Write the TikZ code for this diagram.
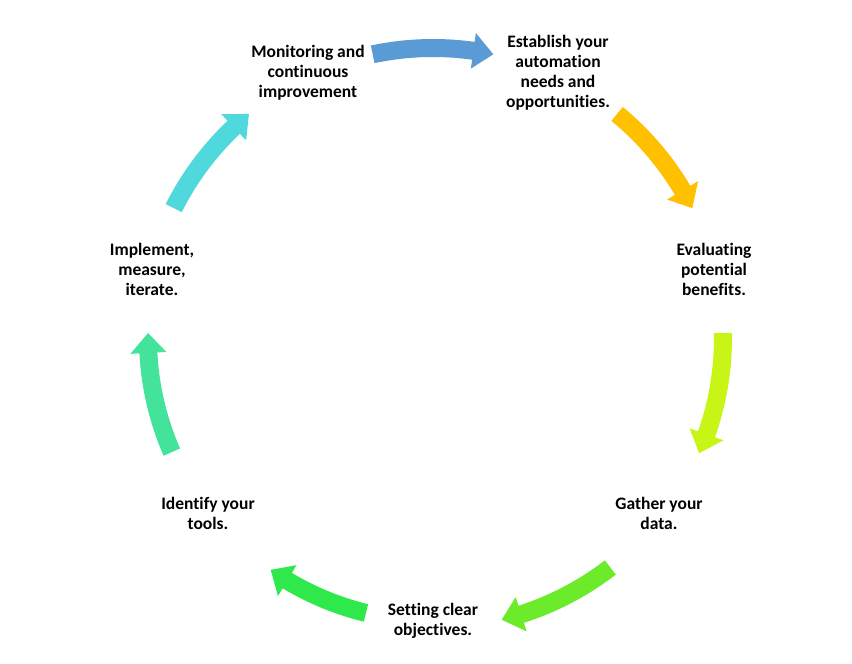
\documentclass[tikz,border=0pt]{standalone}
\usepackage{fontspec}
\setmainfont{Carlito}[Ligatures=NoCommon]
\usetikzlibrary{positioning}

\definecolor{stepblue}{HTML}{5B9BD5}
\definecolor{stepyellow}{HTML}{FFC000}
\definecolor{steplime}{HTML}{C6F516}
\definecolor{steplightgreen}{HTML}{6CEB2A}
\definecolor{stepgreen}{HTML}{2EE84C}
\definecolor{stepteal}{HTML}{43E39C}
\definecolor{stepcyan}{HTML}{4FD9DC}

\tikzset{
  steplabel/.style={align=center,font=\fontsize{17.5}{20}\selectfont\bfseries}
}

\begin{document}
\begin{tikzpicture}[x=1pt,y=1pt]
  \useasboundingbox (-433,-326) rectangle (419,338);
  \node[steplabel] (establish) at (125,265) {Establish your\\automation\\needs and\\opportunities.};
  \node[steplabel] (evaluate) at (281,69) {Evaluating\\potential\\benefits.};
  \node[steplabel] (gather) at (226,-175) {Gather your\\data.};
  \node[steplabel] (setting) at (0,-283) {Setting clear\\objectives.};
  \node[steplabel] (identify) at (-225,-175) {Identify your\\tools.};
  \node[steplabel] (implement) at (-281,69) {Implement,\\measure,\\iterate.};
  \node[steplabel] (monitor) at (-125,265) {Monitoring and\\continuous\\improvement};
  % block arrows round the cycle
  \fill[stepblue] (102:299) arc[start angle=102,end angle=82,radius=299]
    -- (82:308) -- (78:290) -- (82:272) -- (82:281)
    arc[start angle=82,end angle=102,radius=281] -- cycle;
  \fill[stepyellow] (50.6:299) arc[start angle=50.6,end angle=30.6,radius=299]
    -- (30.6:308) -- (26.6:290) -- (30.6:272) -- (30.6:281)
    arc[start angle=30.6,end angle=50.6,radius=281] -- cycle;
  \fill[steplime] (1:299) arc[start angle=1,end angle=-19.4,radius=299]
    -- (-19.4:308) -- (-23.4:290) -- (-19.4:272) -- (-19.4:281)
    arc[start angle=-19.4,end angle=1,radius=281] -- cycle;
  \fill[steplightgreen] (-52.3:299) arc[start angle=-52.3,end angle=-72.3,radius=299]
    -- (-72.3:308) -- (-76.3:290) -- (-72.3:272) -- (-72.3:281)
    arc[start angle=-72.3,end angle=-52.3,radius=281] -- cycle;
  \fill[stepgreen] (-103.7:292) arc[start angle=-103.7,end angle=-121,radius=292]
    -- (-121:301) -- (-125:283) -- (-121:265) -- (-121:274)
    arc[start angle=-121,end angle=-103.7,radius=274] -- cycle;
  \fill[stepteal] (-156.4:294) arc[start angle=-156.4,end angle=-177,radius=294]
    -- (-177:303) -- (-181:285) -- (-177:267) -- (-177:276)
    arc[start angle=-177,end angle=-156.4,radius=276] -- cycle;
  \fill[stepcyan] (153.4:299) arc[start angle=153.4,end angle=133.4,radius=299]
    -- (133.4:308) -- (129.4:290) -- (133.4:272) -- (133.4:281)
    arc[start angle=133.4,end angle=153.4,radius=281] -- cycle;
\end{tikzpicture}
\end{document}
